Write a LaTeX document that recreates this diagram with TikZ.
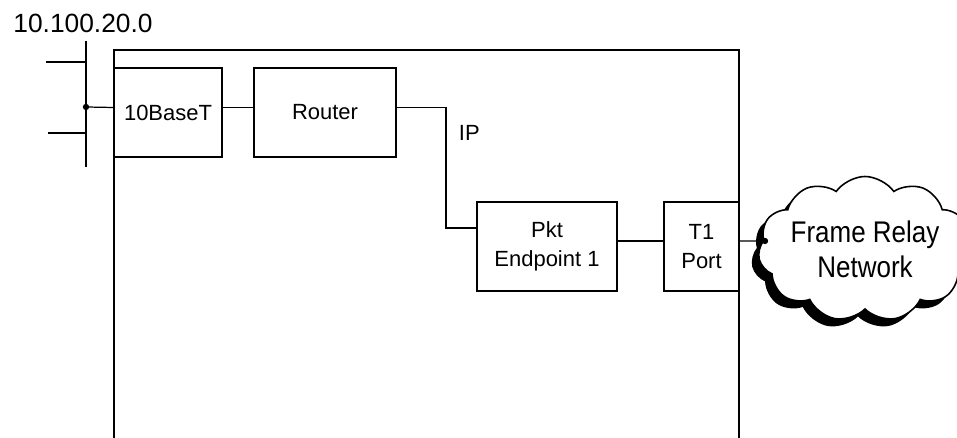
\documentclass[tikz,border=0pt]{standalone}
\usepackage{fontspec}
\setmainfont{Liberation Sans}
\newfontfamily\narrowfont[FakeStretch=0.87]{Liberation Sans}
\usetikzlibrary{calc,shapes.symbols,shadows}
\tikzset{
	box/.style={draw, line width=0.7pt, minimum height=1.78cm, align=center, inner sep=0pt, font=\fontsize{12.5}{16.5}\selectfont},
	netcloud/.style={cloud, cloud ignores aspect, draw, fill=white, line width=0.9pt, cloud puffs=11, cloud puff arc=110, minimum width=3.4cm, minimum height=2.9cm, inner sep=0pt, align=center, font=\narrowfont\fontsize{17}{20}\selectfont, general shadow={fill=black, shadow xshift=-0.14cm, shadow yshift=-0.15cm}}
}

\begin{document}
\begin{tikzpicture}[line width=0.7pt]
		%%%%% START %%%%%
		\useasboundingbox (0, 0) rectangle (19.14, 8.76);
		
		\draw (2.28, 0) -- (2.28, 7.76) -- (14.78, 7.76) -- (14.78, 0);
		
		\node[font=\fontsize{15}{17}\selectfont] (subnet) at (1.66, 8.3) {10.100.20.0};
		\draw (1.72, 7.94) -- (1.72, 5.42);
		\draw (0.92, 7.52) -- (1.72, 7.52);
		\draw (0.96, 6.1) -- (1.72, 6.1);
		\coordinate (busdot) at (1.72, 6.62);
		
		\node[box, minimum width=2.16cm] (tenbase) at (3.36, 6.51) {10BaseT};
		\node[box, minimum width=2.84cm] (router) at (6.5, 6.51) {Router};
		\node[box, minimum width=2.8cm] (pkt) at (10.94, 3.83) {Pkt\\Endpoint 1};
		\node[box, minimum width=1.5cm] (tone) at (14.03, 3.83) {T1\\Port};
		
		\node[netcloud] (frnet) at (17.3, 3.78) {Frame Relay\\Network};
		\coordinate (netdot) at (15.3, 3.94);
		
		\draw[fill=black] (busdot) circle (0.05);
		\draw (busdot) -- ([yshift=1mm]tenbase.west);
		\draw ([yshift=1mm]tenbase.east) -- ([yshift=1mm]router.west);
		
		\coordinate (bend) at (8.92, 4.2);
		\draw ([yshift=1mm]router.east) -| (bend) -- (bend -| pkt.west);
		\node[anchor=west, font=\fontsize{12.5}{15}\selectfont] (iplabel) at (9.05, 6.1) {IP};
		
		\draw ([yshift=1.1mm]pkt.east) -- ([yshift=1.1mm]tone.west);
		\draw ([yshift=1.1mm]tone.east) -- (netdot);
		\draw[fill=black] (netdot) circle (0.05);
		%%%%% END %%%%%
	\end{tikzpicture}
\end{document}
